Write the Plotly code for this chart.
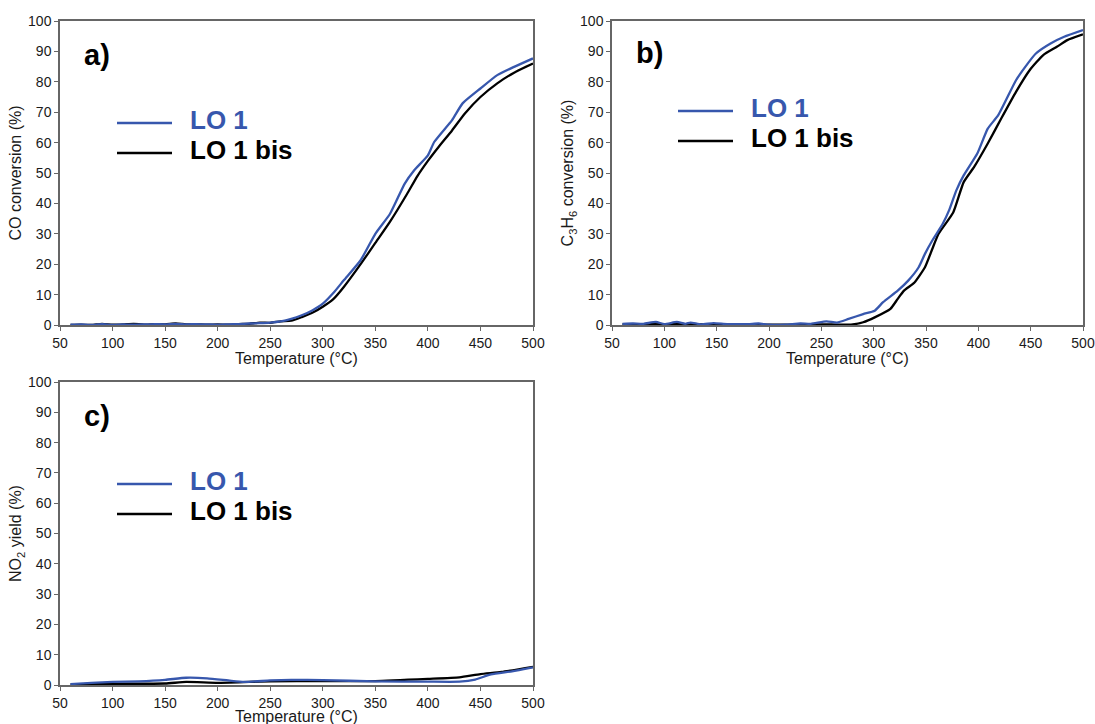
import plotly.graph_objects as go

W, H = 1095, 724

# ---------------- data ----------------
# Panel a) CO conversion (%)
co_T_lo1 = [60, 70, 80, 90, 100, 110, 120, 130, 140, 150, 160, 170, 180, 190, 200, 210, 220, 230, 240, 250,
            260, 270, 280, 290, 300, 310, 320, 336, 350, 364, 378, 387, 400, 406, 423, 433, 450, 466, 482, 500]
co_lo1 = [0.1, 0.2, 0.0, 0.3, 0.0, 0.2, 0.1, 0.2, 0.3, 0.2, 0.4, 0.2, 0.3, 0.2, 0.1, 0.2, 0.3, 0.5, 0.6, 0.8,
          1.2, 2.0, 3.2, 4.8, 7.0, 10.5, 14.7, 21.3, 30.0, 36.6, 46.5, 50.9, 55.8, 60.2, 67.4, 72.9, 77.8, 82.2, 84.9, 87.7]
co_T_lo1bis = [60, 70, 80, 90, 100, 110, 120, 130, 140, 150, 160, 170, 180, 190, 200, 210, 220, 230, 240, 250,
               260, 270, 280, 290, 300, 310, 320, 336, 350, 364, 380, 390, 400, 410, 423, 435, 450, 466, 482, 500]
co_lo1bis = [0.0, 0.1, 0.0, 0.4, 0.1, 0.2, 0.4, 0.1, 0.3, 0.2, 0.5, 0.2, 0.2, 0.1, 0.2, 0.1, 0.3, 0.4, 0.8, 0.7,
             1.2, 1.4, 2.6, 4.0, 6.0, 8.5, 12.5, 20.0, 27.0, 34.0, 43.0, 49.0, 54.0, 58.5, 64.0, 69.5, 75.0, 79.5, 83.0, 86.0]

# Panel b) C3H6 conversion (%)
c3_T_lo1 = [60, 70, 80, 92, 100, 112, 120, 125, 135, 147, 160, 180, 190, 200, 215, 230, 240, 255, 265,
            276, 290, 301, 309, 323, 333, 343, 349, 356, 366, 372, 379, 386, 399, 409, 419, 436, 445, 455, 469, 482, 500]
c3_lo1 = [0.4, 0.5, 0.4, 1.0, 0.3, 1.0, 0.4, 0.8, 0.2, 0.6, 0.3, 0.3, 0.5, 0.1, 0.1, 0.5, 0.4, 1.2, 0.8,
          2.0, 3.6, 4.7, 7.5, 11.3, 14.6, 19.0, 23.4, 27.8, 33.3, 37.7, 44.3, 49.2, 56.4, 64.6, 69.0, 80.5, 85.0, 89.3, 92.6, 94.8, 97.0]
c3_T_lo1bis = [60, 80, 100, 120, 140, 160, 180, 200, 220, 240, 260, 270, 280, 290, 301, 316, 323, 329, 339,
               349, 356, 362, 376, 386, 396, 409, 422, 436, 449, 462, 475, 485, 500]
c3_lo1bis = [0.2, 0.3, 0.2, 0.3, 0.2, 0.3, 0.2, 0.1, 0.1, 0.2, 0.2, 0.1, 0.2, 0.9, 2.5, 5.3, 8.6, 11.3, 14.0,
             19.0, 25.0, 30.0, 37.0, 47.0, 52.0, 59.7, 68.0, 76.7, 83.8, 88.8, 91.5, 93.7, 95.6]

# Panel c) NO2 yield (%)
no2_T_lo1 = [60, 80, 100, 125, 150, 170, 190, 210, 225, 250, 270, 300, 350, 400, 430, 445, 460, 480, 500]
no2_lo1 = [0.3, 0.7, 1.0, 1.2, 1.7, 2.4, 2.2, 1.5, 1.0, 1.5, 1.7, 1.6, 1.2, 1.1, 1.1, 1.8, 3.5, 4.5, 5.8]
no2_T_lo1bis = [60, 100, 150, 170, 200, 230, 250, 300, 350, 400, 430, 450, 470, 500]
no2_lo1bis = [0.2, 0.4, 0.5, 1.0, 0.7, 1.0, 1.2, 1.3, 1.3, 2.0, 2.5, 3.6, 4.3, 6.0]

series_names = ["LO 1", "LO 1 bis"]
x_ticks = [50, 100, 150, 200, 250, 300, 350, 400, 450, 500]
y_ticks = [0, 10, 20, 30, 40, 50, 60, 70, 80, 90, 100]
panel_labels = ["a)", "b)", "c)"]
y_titles = ["CO conversion (%)", "C<sub>3</sub>H<sub>6</sub> conversion (%)", "NO<sub>2</sub> yield (%)"]
x_title = "Temperature (°C)"

BLUE = "#3757ad"
BLACK = "#000000"
AXC = "#666666"
TXT = "#1a1a1a"
FONT = "Liberation Sans, Arial, sans-serif"

def px(x):
    return x / W

def py(y):
    return 1 - y / H

# panel geometry in pixels: (left, right, top, bottom)
panels = [(60, 533, 21, 325), (612, 1083, 21, 325), (60, 533, 382, 685)]
x_title_offset = [33, 33, 31]

fig = go.Figure()

data = [
    (co_T_lo1, co_lo1, co_T_lo1bis, co_lo1bis),
    (c3_T_lo1, c3_lo1, c3_T_lo1bis, c3_lo1bis),
    (no2_T_lo1, no2_lo1, no2_T_lo1bis, no2_lo1bis),
]

for i, (t1, v1, t2, v2) in enumerate(data):
    xa = "x" if i == 0 else f"x{i+1}"
    ya = "y" if i == 0 else f"y{i+1}"
    fig.add_trace(go.Scatter(x=t2, y=v2, mode="lines", name=series_names[1], xaxis=xa, yaxis=ya,
                             line=dict(color=BLACK, width=2.3, shape="spline", smoothing=0.5), showlegend=False))
    fig.add_trace(go.Scatter(x=t1, y=v1, mode="lines", name=series_names[0], xaxis=xa, yaxis=ya,
                             line=dict(color=BLUE, width=2.3, shape="spline", smoothing=0.5), showlegend=False))

layout = dict(
    width=W, height=H,
    margin=dict(l=0, r=0, t=0, b=0),
    paper_bgcolor="white", plot_bgcolor="white",
    font=dict(family=FONT, color=TXT),
)

for i, (l, r, t, b) in enumerate(panels):
    xk = "xaxis" if i == 0 else f"xaxis{i+1}"
    yk = "yaxis" if i == 0 else f"yaxis{i+1}"
    ya = "y" if i == 0 else f"y{i+1}"
    xa = "x" if i == 0 else f"x{i+1}"
    layout[xk] = dict(domain=[px(l), px(r)], anchor=ya, range=[50, 500], tickvals=x_ticks, automargin=False,
                      showline=True, linecolor=AXC, linewidth=1.5, mirror=True, showgrid=False, zeroline=False,
                      ticks="outside", ticklen=4, tickcolor=AXC, tickfont=dict(size=14, family=FONT, color=TXT))
    layout[yk] = dict(domain=[py(b), py(t)], anchor=xa, range=[0, 100], tickvals=y_ticks, automargin=False,
                      showline=True, linecolor=AXC, linewidth=1.5, mirror=True, showgrid=False, zeroline=False,
                      ticks="outside", ticklen=4, tickcolor=AXC, tickfont=dict(size=14, family=FONT, color=TXT),
                      title=dict(text=y_titles[i], font=dict(size=16, family=FONT, color=TXT), standoff=2))

fig.update_layout(**layout)

# panel labels, x-axis titles and in-plot legends (pixel positions)
label_pos = [(82, 55), (634, 53), (82, 416)]
legend_pos = [(117, 123), (678, 111), (117, 484)]
shapes = []
annotations = []
for i, (l, r, t, b) in enumerate(panels):
    annotations.append(dict(x=px((l + r) / 2), y=py(b + x_title_offset[i]), xref="paper", yref="paper",
                            text=x_title, showarrow=False, xanchor="center", yanchor="middle",
                            font=dict(size=16, family=FONT, color=TXT)))
    lx, ly = label_pos[i]
    annotations.append(dict(x=px(lx), y=py(ly), xref="paper", yref="paper", text=f"<b>{panel_labels[i]}</b>",
                            showarrow=False, xanchor="left", yanchor="middle",
                            font=dict(size=29, family=FONT, color="black")))
    gx, gy = legend_pos[i]
    for k, (col, name) in enumerate([(BLUE, series_names[0]), (BLACK, series_names[1])]):
        yy = gy + 30 * k
        shapes.append(dict(type="line", xref="paper", yref="paper", x0=px(gx), x1=px(gx + 55),
                           y0=py(yy), y1=py(yy), line=dict(color=col, width=2.5)))
        annotations.append(dict(x=px(gx + 71), y=py(yy - 3), xref="paper", yref="paper", text=f"<b>{name}</b>",
                                showarrow=False, xanchor="left", yanchor="middle",
                                font=dict(size=26, family=FONT, color=col)))

fig.update_layout(shapes=shapes, annotations=annotations)

fig.write_html("out.html", config={"displayModeBar": False},
               post_script="document.body.style.margin='0';document.body.style.overflow='hidden';")
